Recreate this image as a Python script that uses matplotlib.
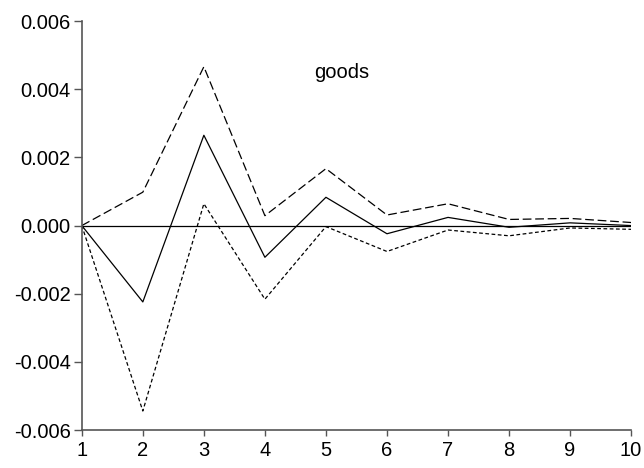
import numpy as np
import matplotlib
matplotlib.use("Agg")
import matplotlib.pyplot as plt

plt.rcParams['font.family'] = ['Liberation Sans', 'DejaVu Sans']

# impulse response of goods, with upper / lower bands
periods = [1, 2, 3, 4, 5, 6, 7, 8, 9, 10]
response = [0.0, -0.00224, 0.00265, -0.00093, 0.00083, -0.00024, 0.00024, -0.00005, 0.00008, 0.00000]
upper = [0.0, 0.00098, 0.00466, 0.00029, 0.00167, 0.00031, 0.00064, 0.00018, 0.00021, 0.00009]
lower = [0.0, -0.00544, 0.00064, -0.00216, -0.00003, -0.00076, -0.00013, -0.00030, -0.00007, -0.00011]
yticks = [-0.006, -0.004, -0.002, 0.000, 0.002, 0.004, 0.006]

fig = plt.figure(figsize=(6.44, 4.68), dpi=100)
ax = fig.add_axes([0.127, 0.081, 0.853, 0.874])

ax.axhline(0, color='black', linewidth=0.9)
ax.plot(periods, response, color='black', linewidth=0.9)
ax.plot(periods, upper, color='black', linewidth=0.9, dashes=(7, 3))
ax.plot(periods, lower, color='black', linewidth=0.9, dashes=(3, 2))

ax.set_xlim(1, 10)
ax.set_ylim(-0.006, 0.006)
ax.set_xticks(periods)
ax.set_yticks(yticks)
ax.set_yticklabels(['%.3f' % v for v in yticks])

for s in ['top', 'right']:
    ax.spines[s].set_visible(False)
for s in ['left', 'bottom']:
    ax.spines[s].set_color('#555555')
    ax.spines[s].set_linewidth(1.2)
ax.tick_params(axis='both', labelsize=14.5, width=1.0, color='#555555')
ax.tick_params(axis='y', length=6, pad=2)
ax.tick_params(axis='x', length=4, pad=4)

ax.text(5.25, 0.0045, 'goods', fontsize=14.5, ha='center', va='center')

fig.savefig('out.png', dpi=100)
